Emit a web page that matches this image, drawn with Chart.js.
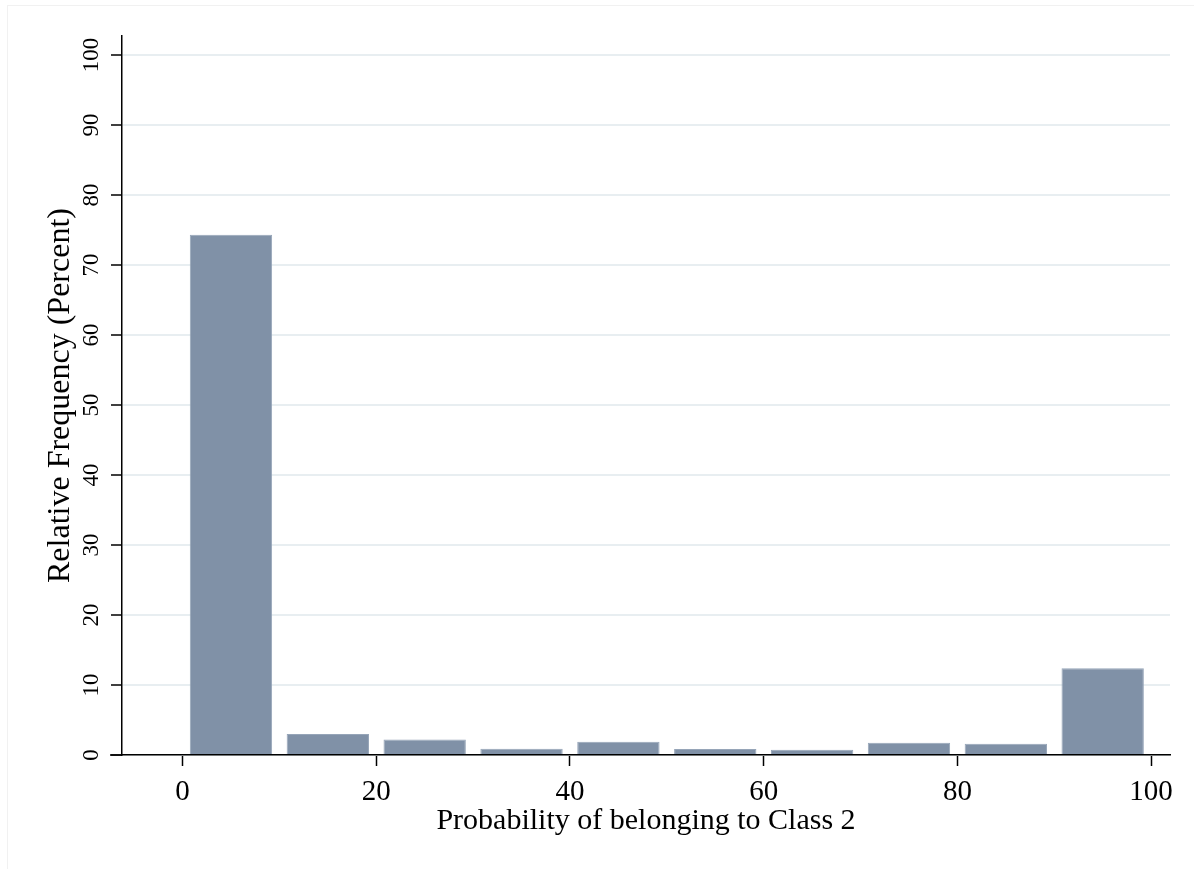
<!DOCTYPE html>
<html>
<head>
<meta charset="utf-8">
<script src="https://cdn.jsdelivr.net/npm/chart.js@4/dist/chart.umd.min.js"></script>
<style>
    html, body { margin: 0; padding: 0; background: #fff; }
    #wrap { position: relative; width: 1194px; height: 869px; }
    #frame { position: absolute; left: 7px; top: 5px; right: 0; bottom: 0;
             border-left: 1px solid #f1f1f1; border-top: 1px solid #f1f1f1; pointer-events: none; }
</style>
</head>
<body>
<div id="wrap">
    <canvas id="ChartHolder" width="1194" height="869"></canvas>
    <div id="frame"></div>
</div>
<script>
// histogram bins (midpoints) and relative frequency in percent
var binCenters = [5, 15, 25, 35, 45, 55, 65, 75, 85, 95];
var percentValues = [74.3, 3.0, 2.2, 0.9, 1.9, 0.85, 0.75, 1.75, 1.6, 12.4];
var xTickValues = [0, 20, 40, 60, 80, 100];
var yTickValues = [0, 10, 20, 30, 40, 50, 60, 70, 80, 90, 100];

var serif = "'Liberation Serif', 'Times New Roman', serif";

// extend the x axis line a bit to the left of the y axis, like Stata does
var axisStub = {
    id: 'axisStub',
    afterDraw: function (chart) {
        var c = chart.ctx, a = chart.chartArea;
        c.save();
        c.strokeStyle = '#000';
        c.lineWidth = 1.5;
        c.beginPath();
        c.moveTo(a.left - 12, a.bottom);
        c.lineTo(a.left, a.bottom);
        c.stroke();
        c.restore();
    }
};

var ctx = document.getElementById('ChartHolder');

var histData = {
    datasets: [{
        label: 'Percent',
        data: binCenters.map(function (x, i) { return { x: x, y: percentValues[i] }; }),
        backgroundColor: 'rgb(128, 145, 167)',
        borderColor: 'rgb(150, 165, 184)',
        borderWidth: 1,
        barPercentage: 0.85,
        categoryPercentage: 1.0
    }]
};

var chartConfig = {
    type: 'bar',
    data: histData,
    plugins: [axisStub],
    options: {
        responsive: false,
        animation: false,
        layout: { padding: { left: 0, right: 24, top: 36, bottom: 0 } },
        plugins: { legend: { display: false }, tooltip: { enabled: false } },
        scales: {
            x: {
                type: 'linear',
                min: -6.25,
                max: 101.95,
                offset: false,
                afterFit: function (s) { s.height = 114; },
                afterBuildTicks: function (s) {
                    s.ticks = xTickValues.map(function (v) { return { value: v }; });
                },
                grid: { display: true, offset: false, drawOnChartArea: false, drawTicks: true, tickLength: 11, tickColor: '#000', tickWidth: 1.5 },
                border: { display: true, color: '#000', width: 1.5 },
                ticks: {
                    color: '#000',
                    padding: 9,
                    maxRotation: 0,
                    font: { family: serif, size: 29 }
                },
                title: {
                    display: true,
                    text: 'Probability of belonging to Class 2',
                    color: '#000',
                    font: { family: serif, size: 30 },
                    padding: { top: 0, bottom: 30 }
                }
            },
            y: {
                type: 'linear',
                min: 0,
                max: 102.7,
                afterFit: function (s) { s.width = 122; },
                afterBuildTicks: function (s) {
                    s.ticks = yTickValues.map(function (v) { return { value: v }; });
                },
                grid: { color: '#e8eef1', lineWidth: 2, tickLength: 11, tickColor: '#000', tickWidth: 1.5 },
                border: { display: true, color: '#000', width: 1.5 },
                ticks: {
                    color: '#000',
                    padding: 2,
                    minRotation: 90,
                    maxRotation: 90,
                    crossAlign: 'center',
                    font: { family: serif, size: 23 }
                },
                title: {
                    display: true,
                    text: 'Relative Frequency (Percent)',
                    color: '#000',
                    font: { family: serif, size: 32 },
                    padding: { top: 41, bottom: 0 }
                }
            }
        }
    }
};

var currentChart = new Chart(ctx, chartConfig);
</script>
</body>
</html>
